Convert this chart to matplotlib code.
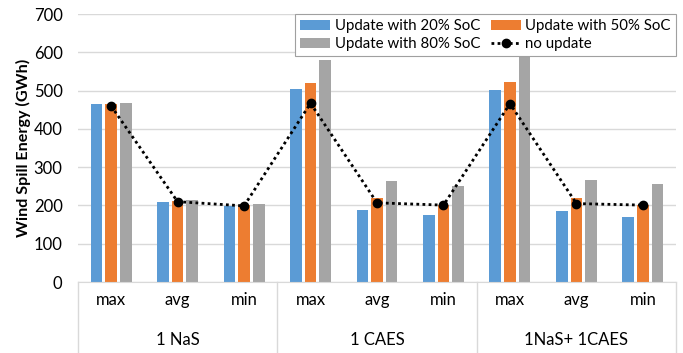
import matplotlib
matplotlib.use("Agg")
import matplotlib.pyplot as plt
import numpy as np

categories = ["max", "avg", "min", "max", "avg", "min", "max", "avg", "min"]
groups = ["1 NaS", "1 CAES", "1NaS+ 1CAES"]
soc20 = [464, 210, 198, 505, 189, 175, 502, 185, 169]
soc50 = [465, 212, 201, 520, 219, 200, 522, 219, 202]
soc80 = [469, 214, 203, 581, 264, 252, 587, 266, 257]
no_update = [460, 210, 199, 467, 207, 201, 466, 205, 201]

plt.rcParams['font.family'] = ['Lato', 'DejaVu Sans']

fig = plt.figure(figsize=(6.83, 3.53), dpi=100)
ax = fig.add_axes([0.114, 0.201, 0.876, 0.759])

x = np.arange(len(categories))
w = 0.176
step = 0.22
b1 = ax.bar(x - step, soc20, w, color="#5B9BD5", label="Update with 20% SoC", zorder=2)
b2 = ax.bar(x, soc50, w, color="#ED7D31", label="Update with 50% SoC", zorder=2)
b3 = ax.bar(x + step, soc80, w, color="#A5A5A5", label="Update with 80% SoC", zorder=2)
ln, = ax.plot(x, no_update, linestyle=(0, (1, 1.2)), color="black", linewidth=2,
              marker="o", markersize=6, label="no update", zorder=3)

ax.set_ylim(0, 700)
ax.set_xlim(-0.5, len(categories) - 0.5)
ax.set_yticks(np.arange(0, 701, 100))
ax.yaxis.grid(True, color="#D9D9D9", linewidth=1, zorder=0)
ax.set_axisbelow(True)
for s in ["left", "right", "top"]:
    ax.spines[s].set_visible(False)
ax.spines["bottom"].set_color("#D9D9D9")
ax.tick_params(axis="y", length=0, labelsize=12, pad=11)
ax.tick_params(axis="x", length=0)
ax.set_xticks([])
ax.set_ylabel("Wind Spill Energy (GWh)", fontsize=11.6, fontweight="bold")
ax.yaxis.set_label_coords(-0.078, 0.5)

trans = ax.get_xaxis_transform()
for i, c in enumerate(categories):
    ax.text(i, -0.067, c, transform=trans, ha="center", va="center", fontsize=12)
for g, name in enumerate(groups):
    ax.text(g * 3 + 1, -0.216, name, transform=trans, ha="center", va="center", fontsize=12)
for xb in [-0.5, 2.5, 5.5, 8.5]:
    ax.plot([xb, xb], [0, -0.27], transform=trans, color="#D9D9D9", linewidth=1, clip_on=False)

leg = ax.legend([b1, b3, b2, ln],
                ["Update with 20% SoC", "Update with 80% SoC", "Update with 50% SoC", "no update"],
                ncol=2, loc="upper right", bbox_to_anchor=(1.0, 1.0), fontsize=10.8,
                frameon=True, fancybox=False, edgecolor="#A0A0A0", framealpha=1,
                handlelength=2.0, handletextpad=0.3, columnspacing=0.7,
                labelspacing=0.25, borderpad=0.35, borderaxespad=0.0)
leg.get_frame().set_linewidth(0.8)

fig.savefig("out.png", dpi=100)
